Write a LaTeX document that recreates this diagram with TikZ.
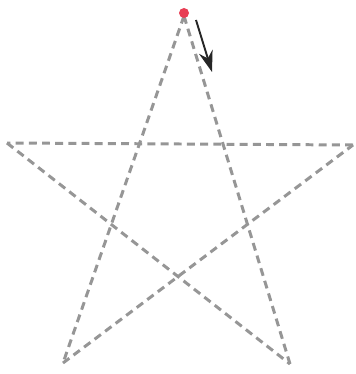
\documentclass[tikz,border=0pt]{standalone}
\usetikzlibrary{arrows.meta}
\definecolor{stargray}{RGB}{150,150,150}
\definecolor{dotred}{RGB}{232,62,84}
\begin{document}
\begin{tikzpicture}[x=0.02cm,y=-0.02cm,
    starline/.style={stargray, line width=1.7pt, dash pattern=on 4.5pt off 3pt},
    dirarrow/.style={-{Stealth[length=12pt,width=8pt]}, line width=1.1pt, black!85}]
    \useasboundingbox (0,0) rectangle (355,374);

    \coordinate (top) at (184,16);
    \coordinate (left) at (7,143);
    \coordinate (right) at (353,145);
    \coordinate (botleft) at (63,363);
    \coordinate (botright) at (290,364);

    \draw[starline] (top) -- (botleft);
    \draw[starline] (botleft) -- (right);
    \draw[starline] (right) -- (left);
    \draw[starline] (left) -- (botright);
    \draw[starline] (botright) -- (top);

    \node[circle, fill=dotred, inner sep=0pt, minimum size=0.2cm] (start) at (184,13) {};

    \coordinate (arrowfrom) at (196,20);
    \coordinate (arrowto) at (212,72);
    \draw[dirarrow] (arrowfrom) -- (arrowto);

\end{tikzpicture}
\end{document}
